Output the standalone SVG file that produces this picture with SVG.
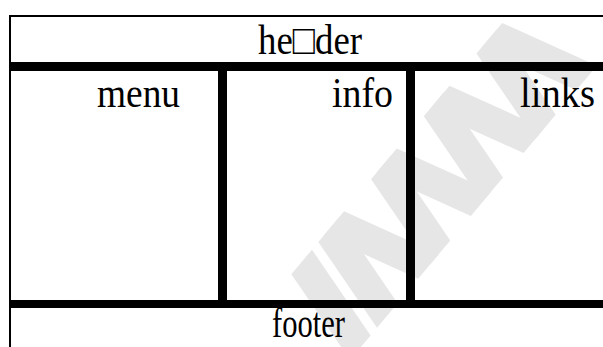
<svg xmlns="http://www.w3.org/2000/svg" width="603" height="347" viewBox="0 0 603 347">
<style>
.bg{fill:#ffffff}
.wm{fill:#e6e6e6}
.line{fill:#000000}
.lbl{font-family:"Liberation Serif","Times New Roman",serif;font-size:42px;fill:#000000}
</style>
<rect class="bg" x="0" y="0" width="603" height="347"/>
<g id="watermark" transform="rotate(-50 445 172)">
  <polygon class="wm" points="240,220 268,120 300,120 272,220"/>
  <polygon class="wm" points="282,220 310,120 342,120 314,220"/>
  <polygon class="wm" points="318,120 346,220 378,220 350,120"/>
  <polygon class="wm" points="364,220 392,120 424,120 396,220"/>
  <polygon class="wm" points="400,120 428,220 460,220 432,120"/>
  <polygon class="wm" points="446,220 474,120 506,120 478,220"/>
  <polygon class="wm" points="482,120 510,220 542,220 514,120"/>
  <polygon class="wm" points="528,220 556,120 588,120 560,220"/>
  <polygon class="wm" points="564,120 592,220 624,220 596,120"/>
</g>
<g id="connectors">
  <rect class="line" x="9" y="15" width="594" height="2"/>
  <rect class="line" x="9" y="15" width="2" height="332"/>
  <rect class="line" x="9" y="62" width="594" height="9"/>
  <rect class="line" x="218" y="70" width="9" height="231"/>
  <rect class="line" x="406" y="70" width="9" height="231"/>
  <rect class="line" x="9" y="300" width="594" height="8"/>
</g>
<g id="header"><text class="lbl" x="258" y="54" textLength="104" lengthAdjust="spacingAndGlyphs">he□der</text></g>
<g id="menu"><text class="lbl" x="97" y="107" textLength="83" lengthAdjust="spacingAndGlyphs">menu</text></g>
<g id="info"><text class="lbl" x="332" y="107" textLength="61" lengthAdjust="spacingAndGlyphs">info</text></g>
<g id="links"><text class="lbl" x="520" y="107" textLength="75" lengthAdjust="spacingAndGlyphs">links</text></g>
<g id="footer"><text class="lbl" x="272" y="337" textLength="73" lengthAdjust="spacingAndGlyphs">footer</text></g>
</svg>
